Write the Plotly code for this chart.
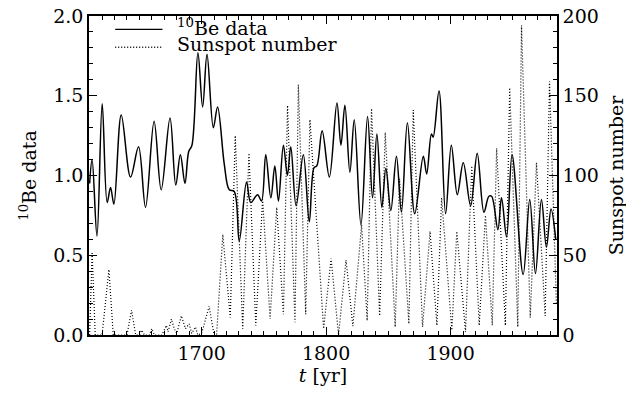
import plotly.graph_objects as go

# ---- 10Be data (smoothed curve, read at turning points) ----
be_years = [1610, 1612, 1615.9, 1620.1, 1624.1, 1626.8, 1629.5, 1635.4, 1642.9, 1649.3,
            1654.9, 1661.8, 1667.5, 1674.6, 1679.2, 1682.9, 1686.6, 1689.6, 1692.2, 1697,
            1700.8, 1704.3, 1709.4, 1712.8, 1718.2, 1722.2, 1726.2, 1730.2, 1736.1, 1739.5,
            1744.9, 1748.1, 1751.5, 1755.6, 1758.8, 1761.7, 1765.7, 1768.9, 1771.6, 1775.9,
            1781.7, 1786.5, 1790.3, 1792.5, 1796.8, 1802.6, 1808.7, 1811.9, 1815.1, 1819.1,
            1822.6, 1828, 1833.3, 1837.3, 1840.8, 1844.8, 1848, 1852, 1856.5, 1860.5,
            1865.3, 1871.2, 1878.1, 1880.8, 1884.6, 1886, 1890.7, 1896, 1900.6, 1905.4,
            1910.2, 1916.1, 1921.4, 1926.8, 1930.8, 1933, 1938, 1940.9, 1945, 1949.4,
            1958.3, 1963.6, 1968.2, 1973, 1977, 1980.7, 1984.5]
be_values = [0.95, 1.10, 0.62, 1.45, 0.83, 0.925, 0.82, 1.38, 0.99, 1.18,
             0.80, 1.34, 0.91, 1.36, 0.94, 1.13, 0.95, 1.15, 1.19, 1.77,
             1.43, 1.76, 1.30, 1.43, 1.07, 0.91, 0.90, 0.59, 0.96, 0.83,
             0.88, 0.84, 1.13, 0.86, 1.06, 0.84, 1.19, 1.00, 1.18, 0.81,
             1.13, 0.71, 1.05, 1.06, 1.28, 0.99, 1.455, 1.19, 1.44, 1.02,
             1.35, 0.69, 1.37, 0.86, 1.26, 0.80, 1.045, 0.78, 1.12, 0.77,
             1.33, 0.76, 1.12, 1.01, 1.26, 1.24, 1.53, 0.76, 1.19, 0.88,
             1.08, 0.81, 1.14, 0.77, 0.87, 0.87, 0.66, 0.86, 0.615, 1.13,
             0.38, 0.85, 0.385, 0.85, 0.55, 0.79, 0.60]

# ---- Sunspot number (read at maxima / minima) ----
ss_years = [1610, 1612, 1614.5, 1620, 1625.5, 1629, 1640, 1643.7, 1647, 1650,
            1651.7, 1654, 1658, 1660, 1662, 1668, 1671.7, 1673, 1675.7, 1678,
            1680, 1683.7, 1687, 1690, 1692, 1695, 1697, 1700, 1706, 1710,
            1712, 1717, 1723, 1727, 1733, 1738, 1743.5, 1749, 1755, 1760.3,
            1765.7, 1769, 1775, 1777.7, 1783.6, 1787, 1798, 1804, 1810, 1816,
            1821.5, 1828.5, 1833, 1836.5, 1843, 1847.5, 1855.5, 1859, 1866.5, 1870,
            1877.5, 1883.5, 1889, 1892.8, 1901, 1905, 1912, 1917, 1923, 1928,
            1933.5, 1937, 1944, 1947.5, 1954, 1957, 1964, 1969, 1976, 1979.5,
            1985]
ss_values = [0, 52, 0, 0, 41, 0, 0, 15.5, 0, 0,
             3, 0, 0, 4, 0, 0, 6, 2, 10, 4,
             1, 12, 4, 7, 1, 5, 0, 1, 18, 0,
             0, 63, 11, 125, 4, 114, 6, 85, 10, 80,
             13, 144, 8, 157, 13, 135, 4, 48, 0, 47,
             5.6, 69, 9, 142, 12, 127, 5, 98, 7, 141,
             5, 65, 6, 86, 3, 65, 2, 106, 6, 75,
             6, 117, 6, 155, 5, 194, 11, 108, 12, 159,
             20]

FONT = "DejaVu Serif"
FS = 19

fig = go.Figure()
fig.add_trace(go.Scatter(x=be_years, y=be_values, mode="lines",
                         line=dict(color="black", width=1.5, shape="spline", smoothing=1.0),
                         name="<sup>10</sup>Be data", showlegend=False))
fig.add_trace(go.Scatter(x=ss_years, y=ss_values, mode="lines", yaxis="y2",
                         line=dict(color="black", width=1.2, dash="1px,2px"),
                         name="Sunspot number", showlegend=False))

# manual legend (paper coordinates)
legend_rows = [("<sup>10</sup>Be data", "solid", 0.958, 0.964),
               ("Sunspot number", "1px,2px", 0.902, 0.912)]
for label, dash, ly, ty in legend_rows:
    fig.add_shape(type="line", xref="paper", yref="paper",
                  x0=0.056, x1=0.157, y0=ly, y1=ly,
                  line=dict(color="black", width=1.3, dash=dash))
    fig.add_annotation(xref="paper", yref="paper", x=0.183, y=ty, text=label,
                       showarrow=False, xanchor="left", yanchor="middle",
                       font=dict(family=FONT, size=FS, color="black"))

axis_common = dict(showline=True, linecolor="black", linewidth=1.5,
                   ticks="inside", tickcolor="black", ticklen=8, tickwidth=1,
                   showgrid=False, zeroline=False, automargin=False,
                   ticklabeloverflow="allow",
                   tickfont=dict(family=FONT, size=FS, color="black"))

# page body has an 8px default margin, so the figure is sized/offset to compensate
fig.update_layout(
    width=626, height=394,
    margin=dict(l=81, r=77, t=8, b=67),
    paper_bgcolor="white", plot_bgcolor="white",
    xaxis=dict(range=[1609.5, 1985.5], tickvals=[1700, 1800, 1900], mirror="ticks",
               minor=dict(ticks="inside", dtick=10, tick0=1700, ticklen=4, tickcolor="black"),
               title=dict(text="<i>t</i> [yr]", font=dict(family=FONT, size=FS, color="black"),
                          standoff=4),
               **axis_common),
    yaxis=dict(range=[0, 2.0], tickvals=[0, 0.5, 1.0, 1.5, 2.0], tickformat=".1f",
               minor=dict(ticks="inside", dtick=0.1, ticklen=4, tickcolor="black"),
               title=dict(text="<sup>10</sup>Be data", font=dict(family=FONT, size=FS, color="black"),
                          standoff=12),
               **axis_common),
    yaxis2=dict(range=[0, 200], tickvals=[0, 50, 100, 150, 200], overlaying="y", side="right",
                minor=dict(ticks="inside", dtick=10, ticklen=4, tickcolor="black"),
                title=dict(text="Sunspot number", font=dict(family=FONT, size=FS, color="black"),
                           standoff=12),
                **axis_common),
)

fig.write_html("out.html")
